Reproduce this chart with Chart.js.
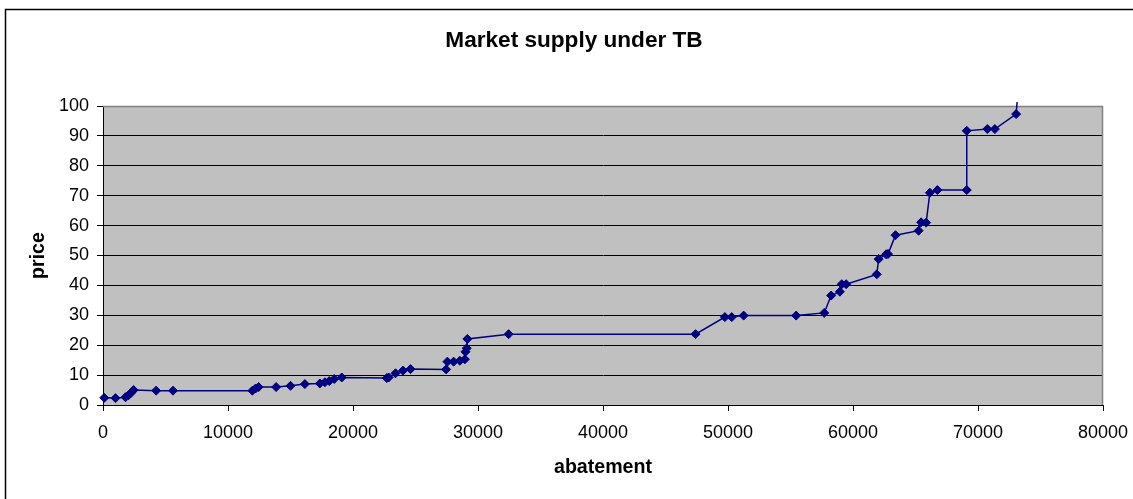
<!DOCTYPE html>
<html>
<head>
<meta charset="utf-8">
<script src="https://cdn.jsdelivr.net/npm/chart.js@4/dist/chart.umd.min.js"></script>
<style>
  html, body { margin: 0; padding: 0; background: #fff; }
  #wrap { position: relative; width: 1133px; height: 499px; }
</style>
</head>
<body>
<div id="wrap"><canvas id="c"></canvas></div>
<script>
// Cumulative abatement offered at each price step (market supply curve)
const abatement = [100, 1000, 1800, 2050, 2250, 2450, 4250, 5600, 11950, 12200, 12450,
  13850, 15000, 16150, 17350, 17750, 18100, 18500, 19100, 22700, 22850, 23400, 24000,
  24600, 27450, 27550, 28050, 28550, 28950, 29000, 29100, 29150, 32450, 47400, 49750,
  50300, 51250, 55450, 57700, 58250, 58950, 59100, 59450, 61900, 62050, 62650, 62800,
  63400, 65250, 65450, 65850, 66150, 66750, 69100, 69100, 70750, 71350, 73050, 73400];
const price = [2.4, 2.3, 2.6, 3.3, 4.1, 5.0, 4.8, 4.8, 4.8, 5.5, 6.0,
  6.0, 6.4, 7.0, 7.2, 7.6, 8.0, 8.7, 9.2, 9.0, 9.2, 10.6, 11.5,
  12.0, 11.9, 14.5, 14.5, 14.8, 15.3, 17.8, 19.0, 22.1, 23.7, 23.7, 29.4,
  29.4, 29.9, 29.9, 30.8, 36.6, 37.9, 40.4, 40.4, 43.7, 48.8, 50.4, 50.5,
  56.8, 58.3, 61.1, 61.0, 71.0, 71.9, 71.9, 91.7, 92.3, 92.3, 97.3, 115];

const xTicks = [0, 10000, 20000, 30000, 40000, 50000, 60000, 70000, 80000];
const yTicks = [0, 10, 20, 30, 40, 50, 60, 70, 80, 90, 100];

const FONT = '"Liberation Sans", Arial, sans-serif';
const NAVY = '#000080';

const points = abatement.map((a, i) => ({ x: a, y: price[i] }));

// Grey plot area, outer frame and the plot's top/right border
const frame = {
  id: 'frame',
  beforeDraw(chart) {
    const { ctx, chartArea: a } = chart;
    ctx.save();
    ctx.fillStyle = '#ffffff';
    ctx.fillRect(0, 0, chart.width, chart.height);
    ctx.fillStyle = '#C0C0C0';
    ctx.fillRect(a.left, a.top, a.right - a.left, a.bottom - a.top);
    ctx.strokeStyle = '#000';
    ctx.lineWidth = 1.5;
    ctx.beginPath();
    ctx.moveTo(5.5, chart.height + 2);
    ctx.lineTo(5.5, 9.5);
    ctx.lineTo(chart.width + 2, 9.5);
    ctx.stroke();
    ctx.restore();
  },
  beforeDatasetsDraw(chart) {
    const { ctx, chartArea: a } = chart;
    ctx.save();
    ctx.strokeStyle = '#808080';
    ctx.lineWidth = 1.5;
    ctx.beginPath();
    ctx.moveTo(a.left, a.top + 0.5);
    ctx.lineTo(a.right - 0.5, a.top + 0.5);
    ctx.lineTo(a.right - 0.5, a.bottom);
    ctx.stroke();
    ctx.restore();
  }
};

new Chart(document.getElementById('c'), {
  type: 'line',
  data: {
    datasets: [{
      data: points,
      borderColor: NAVY,
      backgroundColor: NAVY,
      borderWidth: 1.5,
      pointStyle: 'rectRot',
      pointRadius: 4.5,
      pointBorderWidth: 1,
      pointBackgroundColor: NAVY,
      pointBorderColor: NAVY,
      tension: 0,
      fill: false,
      clip: { left: 6, top: 4, right: 0, bottom: 6 }
    }]
  },
  options: {
    responsive: true,
    maintainAspectRatio: false,
    animation: false,
    devicePixelRatio: 1,
    layout: { padding: { left: 15, top: 0, right: 0, bottom: 0 } },
    plugins: {
      legend: { display: false },
      tooltip: { enabled: false },
      title: {
        display: true,
        text: 'Market supply under TB',
        color: '#000',
        font: { family: FONT, size: 22.6, weight: 'bold', lineHeight: 1.2 },
        padding: { top: 27.1, bottom: 51.8 }
      }
    },
    scales: {
      x: {
        type: 'linear',
        min: 0,
        max: 80000,
        afterBuildTicks(s) { s.ticks = xTicks.map(v => ({ value: v })); },
        afterFit(s) { s.height = 94; s.paddingLeft = 0; s.paddingRight = 30; },
        ticks: {
          color: '#000',
          font: { family: FONT, size: 18 },
          padding: 11,
          maxRotation: 0,
          autoSkip: false,
          callback: v => String(v)
        },
        grid: { drawOnChartArea: false, color: '#000', tickLength: 6, tickColor: '#000' },
        border: { display: true, color: '#000', width: 1 },
        title: {
          display: true,
          text: 'abatement',
          color: '#000',
          font: { family: FONT, size: 19.6, weight: 'bold', lineHeight: 1.2 },
          padding: { top: 0, bottom: 19.6 }
        }
      },
      y: {
        type: 'linear',
        min: 0,
        max: 100,
        afterBuildTicks(s) { s.ticks = yTicks.map(v => ({ value: v })); },
        afterFit(s) { s.width = 88; s.paddingTop = 0; s.paddingBottom = 0; },
        ticks: {
          color: '#000',
          font: { family: FONT, size: 18 },
          padding: 8,
          autoSkip: false,
          callback: v => String(v)
        },
        grid: {
          color: c => (c.tick && c.tick.value === 100) ? '#808080' : '#000',
          tickColor: '#000',
          tickLength: 6,
          lineWidth: 1
        },
        border: { display: true, color: '#000', width: 1 },
        title: {
          display: true,
          text: 'price',
          color: '#000',
          font: { family: FONT, size: 19.6, weight: 'bold', lineHeight: 1.2 },
          padding: { top: 12, bottom: 0 }
        }
      }
    }
  },
  plugins: [frame]
});
</script>
</body>
</html>
